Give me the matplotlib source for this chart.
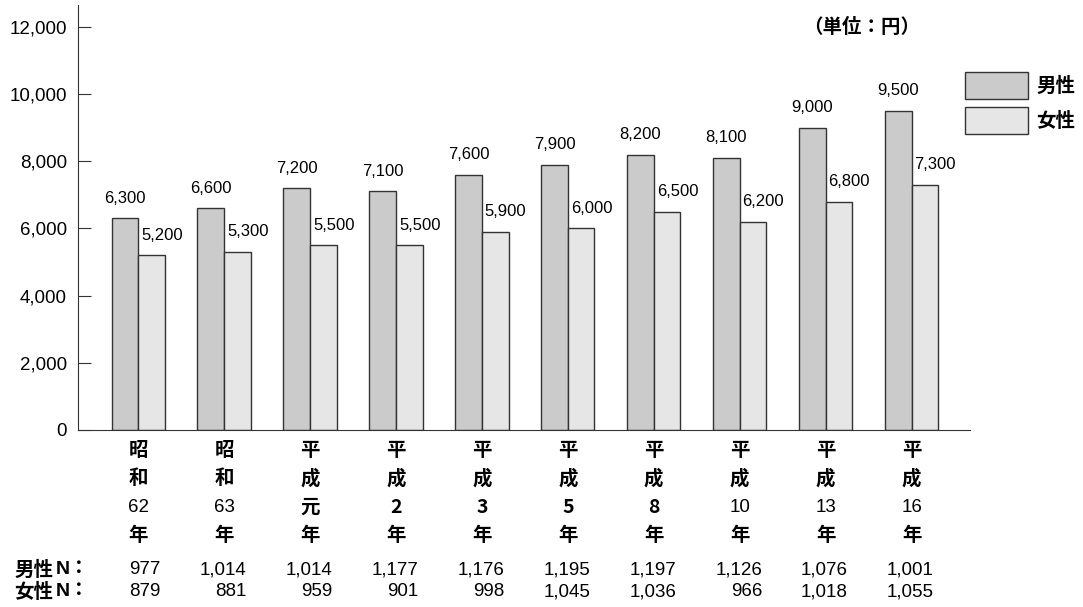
import matplotlib
matplotlib.use("Agg")
import matplotlib.pyplot as plt
from matplotlib.patches import Rectangle
from matplotlib.transforms import blended_transform_factory
import numpy as np

# データ
era = ["昭和", "昭和", "平成", "平成", "平成", "平成", "平成", "平成", "平成", "平成"]
year = ["62", "63", "元", "2", "3", "5", "8", "10", "13", "16"]
male = [6300, 6600, 7200, 7100, 7600, 7900, 8200, 8100, 9000, 9500]
female = [5200, 5300, 5500, 5500, 5900, 6000, 6500, 6200, 6800, 7300]
male_n = [977, 1014, 1014, 1177, 1176, 1195, 1197, 1126, 1076, 1001]
female_n = [879, 881, 959, 901, 998, 1045, 1036, 966, 1018, 1055]

jp = "Noto Sans CJK JP"
num = "Liberation Sans"
c_male = "#cbcbcb"
c_female = "#e6e6e6"
edge = "#333333"
W, H = 1083, 607
fs_num = 13.5
fs_jp = 14

fig = plt.figure(figsize=(W / 100, H / 100), dpi=100)
ax = fig.add_axes([78 / W, 1 - 430 / H, 892 / W, 425 / H])

x = np.arange(len(male))
w = 0.31
ax.bar(x - w / 2, male, w, color=c_male, edgecolor=edge, linewidth=1)
ax.bar(x + w / 2, female, w, color=c_female, edgecolor=edge, linewidth=1)

ax.set_xlim(-0.7, 9.68)
ax.set_ylim(0, 12650)
ticks = list(range(0, 12001, 2000))
ax.set_yticks(ticks)
ax.set_yticklabels([f"{v:,}" for v in ticks], fontfamily=num, fontsize=fs_num)
ax.tick_params(axis="y", direction="in", length=9, pad=8, color=edge)
ax.set_xticks([])
for s in ["top", "right"]:
    ax.spines[s].set_visible(False)
for s in ["left", "bottom"]:
    ax.spines[s].set_color(edge)

# 値ラベル
for i in range(len(male)):
    ax.annotate(f"{male[i]:,}", (x[i] - w / 2, male[i]), xytext=(0, 9),
                textcoords="offset points", ha="center", va="bottom",
                fontfamily=num, fontsize=12)
    ax.annotate(f"{female[i]:,}", (x[i] + w / 2, female[i]), xytext=(7.5, 9),
                textcoords="offset points", ha="center", va="bottom",
                fontfamily=num, fontsize=12)

tr = blended_transform_factory(ax.transData, fig.transFigure)

# 横軸ラベル（縦書き）
for i in range(len(male)):
    chars = [era[i][0], era[i][1], year[i], "年"]
    for j, ch in enumerate(chars):
        yy = 1 - (450 + j * 28.6) / H
        if ch.isdigit() and len(ch) == 2:
            fam, fw, fs = num, "normal", fs_num
        else:
            fam, fw, fs = jp, "bold", fs_jp
        ax.text(x[i], yy, ch, transform=tr, ha="center", va="center",
                fontfamily=fam, fontweight=fw, fontsize=fs)

# N の行
for yp, lab, vals in [(570, "男性", male_n), (592, "女性", female_n)]:
    yy = 1 - yp / H
    fig.text(14 / W, yy, lab, ha="left", va="center", fontfamily=jp,
             fontweight="bold", fontsize=fs_jp)
    fig.text(56 / W, yy, "N：", ha="left", va="center",
             fontfamily=[num, jp], fontweight="bold", fontsize=fs_jp)
    for i, v in enumerate(vals):
        ax.text(x[i] + 0.26, yy, f"{v:,}", transform=tr, ha="right",
                va="center", fontfamily=num, fontsize=fs_num)

# 単位
fig.text(862 / W, 1 - 27 / H, "（単位：円）", ha="center", va="center",
         fontfamily=jp, fontweight="bold", fontsize=fs_jp)

# 凡例
for yp, lab, col in [(72, "男性", c_male), (107, "女性", c_female)]:
    fig.patches.append(Rectangle((965 / W, 1 - (yp + 27) / H), 63 / W, 27 / H,
                                 transform=fig.transFigure, facecolor=col,
                                 edgecolor=edge, linewidth=1))
    fig.text(1036 / W, 1 - (yp + 14) / H, lab, ha="left", va="center",
             fontfamily=jp, fontweight="bold", fontsize=fs_jp)

fig.savefig("out.png", dpi=100)
